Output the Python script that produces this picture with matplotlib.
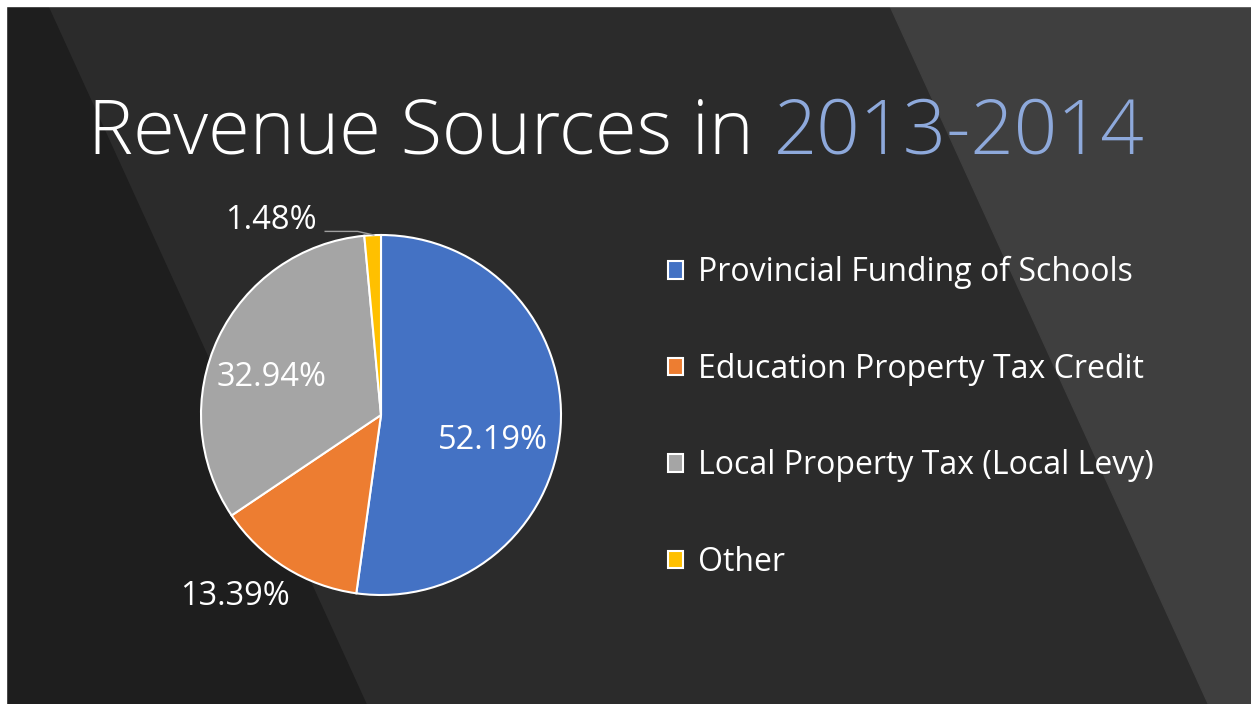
import numpy as np
import matplotlib.pyplot as plt
from matplotlib.patches import Polygon, Rectangle

# data
sources = ['Provincial Funding of Schools', 'Education Property Tax Credit',
           'Local Property Tax (Local Levy)', 'Other']
shares = [52.19, 13.39, 32.94, 1.48]
colors = ['#4472C4', '#ED7D31', '#A5A5A5', '#FFC000']

# where each percentage label sits (pie units, centre = 0,0)
label_pos = [(0.62, -0.14), (-0.81, -1.01), (-0.61, 0.21), (-0.61, 1.08)]

plt.rcParams['font.family'] = ['Open Sans', 'DejaVu Sans']

W, H = 1251, 704
fig = plt.figure(figsize=(W / 100, H / 100), dpi=100)

# background with the diagonal bands
bg = fig.add_axes([0, 0, 1, 1])
bg.set_xlim(0, W)
bg.set_ylim(H, 0)
bg.axis('off')
bg.add_patch(Rectangle((0, 0), W, H, color='#2b2b2b'))
bg.add_patch(Polygon([(0, 0), (45, 0), (366, H), (0, H)], color='#1e1e1e'))
bg.add_patch(Polygon([(887, 0), (W, 0), (W, H), (1208, H)], color='#3f3f3f'))
bg.add_patch(Rectangle((0, 0), W, 6, color='white'))
bg.add_patch(Rectangle((0, 0), 6, H, color='white'))

# title, two colours
t1 = bg.text(88, 154, 'Revenue Sources in ', color='white', fontsize=54.6,
             fontweight='light', va='baseline', ha='left')
fig.canvas.draw()
x_end = bg.transData.inverted().transform((t1.get_window_extent().x1, 0))[0]
bg.text(x_end, 154, '2013-2014', color='#8EA9DB', fontsize=54.6,
        fontweight='light', va='baseline', ha='left')

# pie
cx, cy, r = 381, 415, 180
ax = fig.add_axes([(cx - r) / W, (H - cy - r) / H, 2 * r / W, 2 * r / H])
wedges, _ = ax.pie(shares, colors=colors, startangle=90, counterclock=False,
                   wedgeprops=dict(edgecolor='white', linewidth=1.5))
ax.set_xlim(-1, 1)
ax.set_ylim(-1, 1)
ax.set_aspect('equal')
ax.axis('off')

for v, (lx, ly) in zip(shares, label_pos):
    ax.text(lx, ly, f'{v:.2f}%', color='white', fontsize=23.5,
            ha='center', va='center', clip_on=False)

# leader line for the small "Other" slice
ax.plot([-0.31, -0.13, -0.04], [1.02, 1.02, 1.0], color='#a0a0a0',
        lw=1, clip_on=False)

leg = fig.legend(wedges, sources, loc='upper left',
                 bbox_to_anchor=(668 / W, 1 - 256 / H), frameon=False,
                 borderpad=0, borderaxespad=0,
                 fontsize=23, labelcolor='white', handlelength=0.48,
                 handleheight=0.48, handletextpad=0.45, labelspacing=1.99)

fig.savefig('out.png', dpi=100)
